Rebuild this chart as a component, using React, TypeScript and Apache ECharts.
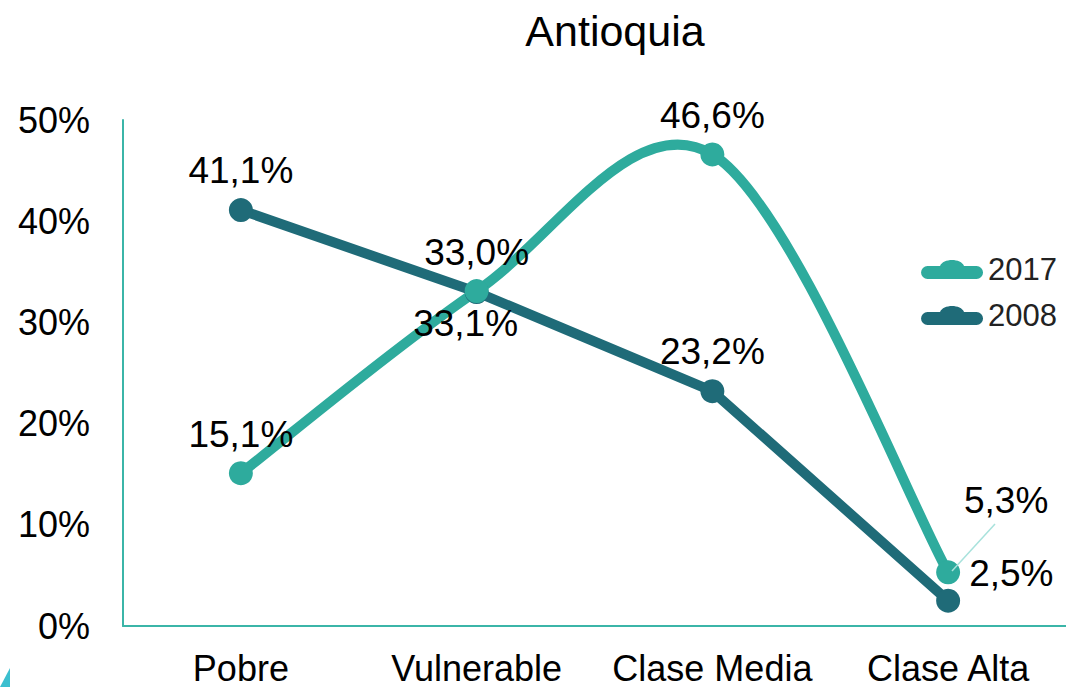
import React, { useEffect, useRef } from "react";
import * as echarts from "echarts";

const categories = ["Pobre", "Vulnerable", "Clase Media", "Clase Alta"];
const values2017 = [15.1, 33.1, 46.6, 5.3];
const values2008 = [41.1, 33.0, 23.2, 2.5];
const yTicks = [0, 10, 20, 30, 40, 50];

const C2017 = "#2eab9d";
const C2008 = "#1f6b78";
const AXIS = "#3bb5a8";
const FONT = "Liberation Sans, Arial, sans-serif";

const fmt = (v: number) => v.toFixed(1).replace(".", ",") + "%";

const LEGEND_ICON =
  "path://M6.5,9 L19,9 C22,1 40,1 43,9 L55.5,9 A6.5,6.5 0 0 1 55.5,22 L6.5,22 A6.5,6.5 0 0 1 6.5,9 Z";

export default function App() {
  const ref = useRef<HTMLDivElement>(null);
  useEffect(() => {
    if (!ref.current) return;
    const chart = echarts.init(ref.current, undefined, { renderer: "svg" });
    const labelPos2017 = ["top", "bottom", "top", "top"];
    const labelPos2008 = ["top", "top", "top", "right"];
    const labelFont = { fontFamily: FONT, fontSize: 37, color: "#000" };
    chart.setOption({
      animation: false,
      backgroundColor: "#ffffff",
      title: {
        text: "Antioquia",
        top: 4,
        left: 610,
        textAlign: "center",
        textStyle: { fontFamily: FONT, fontSize: 43, fontWeight: "normal", color: "#000" },
      },
      legend: {
        right: 4,
        top: 249,
        orient: "vertical",
        itemGap: 15,
        itemWidth: 62,
        itemHeight: 21,
        icon: LEGEND_ICON,
        textStyle: {
          fontFamily: "Liberation Sans Narrow, Arial Narrow, sans-serif",
          fontSize: 31,
          color: "#222",
        },
        data: [
          { name: "2017", itemStyle: { color: C2017 } },
          { name: "2008", itemStyle: { color: C2008 } },
        ],
      },
      grid: { left: 123, right: -4, top: 120, bottom: 61, containLabel: false },
      xAxis: {
        type: "category",
        data: categories,
        boundaryGap: true,
        axisLine: { show: true, lineStyle: { color: AXIS, width: 2 } },
        axisTick: { show: false },
        axisLabel: { interval: 0, fontFamily: FONT, fontSize: 36, color: "#000", margin: 24 },
      },
      yAxis: {
        type: "value",
        min: yTicks[0],
        max: yTicks[yTicks.length - 1],
        interval: 10,
        axisLine: { show: true, lineStyle: { color: AXIS, width: 2 } },
        axisTick: { show: false },
        splitLine: { show: false },
        axisLabel: {
          fontFamily: FONT,
          fontSize: 36,
          color: "#000",
          margin: 33,
          formatter: (v: number) => v + "%",
        },
      },
      series: [
        {
          name: "2017",
          type: "custom",
          data: values2017.map((v, i) => [i, v]),
          renderItem: (params: any, api: any) => {
            if (params.dataIndex !== 0) return null;
            const pts = values2017.map((v, i) => api.coord([i, v]));
            const n = pts.length;
            const P = (k: number) => pts[Math.max(0, Math.min(n - 1, k))];
            let d = `M${pts[0][0]},${pts[0][1]}`;
            for (let i = 0; i < n - 1; i++) {
              const p0 = P(i - 1), p1 = P(i), p2 = P(i + 1), p3 = P(i + 2);
              const c1 = [p1[0] + (p2[0] - p0[0]) / 6, p1[1] + (p2[1] - p0[1]) / 6];
              const c2 = [p2[0] - (p3[0] - p1[0]) / 6, p2[1] - (p3[1] - p1[1]) / 6];
              d += ` C${c1[0]},${c1[1]} ${c2[0]},${c2[1]} ${p2[0]},${p2[1]}`;
            }
            return {
              type: "path",
              shape: { pathData: d },
              style: { stroke: C2017, lineWidth: 10, fill: "none", lineCap: "round" },
            };
          },
          z: 2,
          silent: true,
        },
        {
          name: "2017",
          type: "line",
          data: values2017.map((v, i) => ({
            value: v,
            label: {
              position: labelPos2017[i],
              distance: i === 1 ? 2 : 8,
              offset: i === 1 ? [-11, 0] : i === 3 ? [58, -33] : [0, 0],
            },
          })),
          symbol: "circle",
          symbolSize: 24,
          lineStyle: { width: 0, opacity: 0 },
          itemStyle: { color: C2017 },
          label: { show: true, ...labelFont, formatter: (p: any) => fmt(p.value) },
          z: 5,
        },
        {
          name: "2008",
          type: "line",
          smooth: false,
          data: values2008.map((v, i) => ({
            value: v,
            label: {
              position: labelPos2008[i],
              distance: i === 3 ? 9 : 9,
              offset: i === 3 ? [0, -27] : [0, 0],
            },
          })),
          symbol: "circle",
          symbolSize: 24,
          lineStyle: { color: C2008, width: 10 },
          itemStyle: { color: C2008 },
          label: { show: true, ...labelFont, formatter: (p: any) => fmt(p.value) },
          z: 4,
        },
      ],
      graphic: [
        {
          type: "line",
          shape: { x1: 952, y1: 571, x2: 995, y2: 524 },
          style: { stroke: "#a8e2dc", lineWidth: 1.5 },
          z: 10,
        },
        {
          type: "polygon",
          shape: { points: [[0, 687], [10, 687], [10, 668]] },
          style: { fill: "#3bbfcf" },
        },
      ],
    });
    return () => chart.dispose();
  }, []);
  return (
    <div
      ref={ref}
      style={{ position: "fixed", left: 0, top: 0, width: 1066, height: 687 }}
    />
  );
}
